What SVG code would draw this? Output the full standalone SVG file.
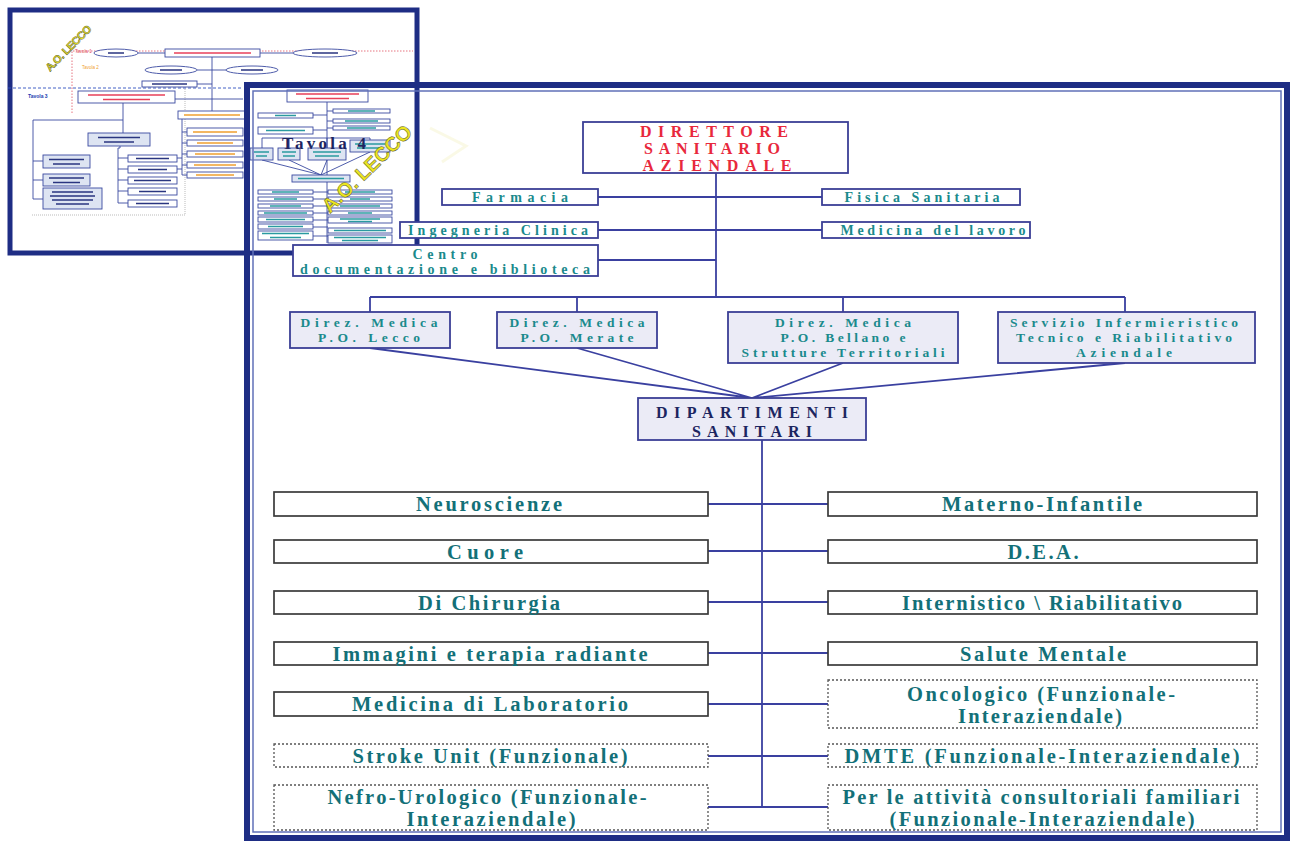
<svg xmlns="http://www.w3.org/2000/svg" width="1290" height="841" viewBox="0 0 1290 841">
<style>
.bg{fill:#fff}
.fr{fill:none;stroke:#1e2d84;stroke-width:6}
.fri{fill:none;stroke:#6070b8;stroke-width:1.5}
.tb{fill:#fff;stroke:#3b3f96;stroke-width:1.8}
.tf{fill:#ebebf6;stroke:#3b3f96;stroke-width:1.8}
.db{fill:#fff;stroke:#3a3a3a;stroke-width:1.7}
.dd{fill:#fff;stroke:#555;stroke-width:1.3;stroke-dasharray:2 2}
.ln{fill:none;stroke:#3a40a0;stroke-width:1.8}
.tt{font-family:"Liberation Serif",serif;font-weight:bold;fill:#1a8a8c;text-anchor:middle}
.dt{font-family:"Liberation Serif",serif;font-weight:bold;fill:#137078;text-anchor:middle;font-size:20.5px}
.rd{font-family:"Liberation Serif",serif;font-weight:bold;fill:#e8283c;text-anchor:middle;font-size:16px}
.nv{font-family:"Liberation Serif",serif;font-weight:bold;fill:#1c2560;text-anchor:middle;font-size:16px}
.m{fill:#fff;stroke:#3a4aa0;stroke-width:.9}
.mf{fill:#dde4f2;stroke:#3a4aa0;stroke-width:.9}
.ml{fill:none;stroke:#3a4aa0;stroke-width:.9}
.bt{stroke:#2a9aa0;stroke-width:1.3}
.br{stroke:#e8405a;stroke-width:1.5}
.bo{stroke:#f0a030;stroke-width:1.3}
.bn{stroke:#2a3580;stroke-width:1.3}
.wm{font-family:"Liberation Sans",sans-serif;font-weight:bold;fill:#ece51e;stroke:#5a5a30;stroke-width:.5}
</style>
<rect class="bg" x="0" y="0" width="1290" height="841"/>

<g id="thumbnail">
  <rect x="10" y="10" width="407" height="243" fill="#fff" stroke="#1e2d84" stroke-width="5"/>
  <path d="M72,113 V51 H413" fill="none" stroke="#e05060" stroke-width=".8" stroke-dasharray="1.5 1.5"/>
  <path d="M8,88 H243" fill="none" stroke="#3050c0" stroke-width=".9" stroke-dasharray="3 2"/>
  <path d="M32,215 H185 V88" fill="none" stroke="#aaa" stroke-width=".8" stroke-dasharray="1 1"/>
  <text x="75" y="53" font-family="Liberation Sans,sans-serif" font-size="4.5" fill="#e05060">Tavola 1</text>
  <text x="82" y="69" font-family="Liberation Sans,sans-serif" font-size="4.5" fill="#f0a030">Tavola 2</text>
  <text x="28" y="98" font-family="Liberation Sans,sans-serif" font-weight="bold" font-size="5" fill="#2040b0">Tavola 3</text>
  <path class="ml" d="M138,53 H165 M260,53 H293 M197,70 H227 M212,57 V113 M197,84 H212 M175,99 H243"/>
  <ellipse class="m" cx="116" cy="53" rx="22" ry="4"/>
  <ellipse class="m" cx="325" cy="53" rx="32" ry="4"/>
  <ellipse class="m" cx="171" cy="70" rx="26" ry="4"/>
  <ellipse class="m" cx="252" cy="70" rx="26" ry="4"/>
  <path class="bn" d="M108,53 H124 M312,53 H338 M160,70 H182 M241,70 H263"/>
  <rect class="m" x="165" y="49" width="95" height="8"/>
  <path class="br" d="M174,53 H251"/>
  <rect class="m" x="142" y="81" width="55" height="6"/>
  <path class="bn" d="M152,84 H187"/>
  <rect class="m" x="78" y="91" width="97" height="12"/>
  <path class="br" d="M88,95 H165 M103,99.5 H150"/>
  <rect class="m" x="178" y="111" width="67" height="8"/>
  <path class="bo" d="M184,115 H240"/>
  <path class="ml" d="M123,103 V133 M123,120 H33 V199 M33,161 H43 M33,180 H43 M33,199 H43"/>
  <path class="ml" d="M120,146 V148 H118 V203 M118,158 H128 M118,169 H128 M118,180 H128 M118,191 H128 M118,203 H128"/>
  <path class="ml" d="M182,119 V175 M182,132 H187 M182,143 H187 M182,154 H187 M182,165 H187 M182,175 H187 M177,158 H182 M177,169 H182"/>
  <rect class="mf" x="88" y="133" width="62" height="13"/>
  <path class="bn" d="M98,137.5 H140 M104,142 H134"/>
  <rect class="mf" x="43" y="155" width="47" height="13"/>
  <rect class="mf" x="43" y="174" width="47" height="12"/>
  <rect class="mf" x="43" y="188" width="59" height="21"/>
  <path class="bn" d="M49,159.5 H84 M53,164 H80 M49,178 H84 M53,182.5 H80 M52,192 H93 M50,196 H95 M52,200 H93 M56,204 H89"/>
  <rect class="m" x="128" y="155" width="49" height="7"/>
  <rect class="m" x="128" y="166" width="49" height="7"/>
  <rect class="m" x="128" y="177" width="49" height="7"/>
  <rect class="m" x="128" y="188" width="49" height="7"/>
  <rect class="m" x="128" y="200" width="49" height="7"/>
  <path class="bn" d="M136,158.5 H169 M138,169.5 H167 M134,180.5 H171 M139,191.5 H166 M136,203.5 H169"/>
  <rect class="m" x="187" y="128" width="56" height="8"/>
  <rect class="m" x="187" y="140" width="56" height="6"/>
  <rect class="m" x="187" y="151" width="56" height="6"/>
  <rect class="m" x="187" y="162" width="56" height="6"/>
  <rect class="m" x="187" y="172" width="56" height="6"/>
  <path class="bo" d="M193,132 H237 M197,143 H233 M195,154 H235 M194,165 H236 M196,175 H234"/>

  <rect class="m" x="287" y="90" width="81" height="12"/>
  <path class="br" d="M296,94 H359 M306,98.5 H349"/>
  <path class="ml" d="M327,102 V243 M313,115 H327 M313,130 H327 M327,111 H333 M327,121 H333 M327,128 H333"/>
  <path class="ml" d="M262,138 H370 M262,138 V148 M289,138 V148 M327,138 V148 M370,138 V140"/>
  <path class="ml" d="M262,160 L321,175 M289,160 L321,175 M327,160 L321,175 M370,152 L321,175"/>
  <path class="ml" d="M313,192 H328 M313,199 H328 M313,206 H328 M313,213 H328 M313,220 H328 M313,227 H328 M313,236 H328"/>
  <rect class="m" x="258" y="113" width="55" height="5"/>
  <rect class="m" x="258" y="127" width="55" height="7"/>
  <rect class="m" x="333" y="109" width="57" height="4"/>
  <rect class="m" x="333" y="119" width="57" height="4"/>
  <rect class="m" x="333" y="126" width="57" height="4"/>
  <path class="bt" d="M275,115.5 H296 M266,130.5 H305 M348,111 H375 M345,121 H378 M347,128 H376"/>
  <rect class="mf" x="250" y="148" width="23" height="12"/>
  <rect class="mf" x="278" y="148" width="22" height="12"/>
  <rect class="mf" x="308" y="148" width="38" height="12"/>
  <rect class="mf" x="350" y="140" width="40" height="12"/>
  <path class="bt" d="M254,152 H269 M256,156 H267 M282,152 H296 M283,156 H295 M313,152 H341 M315,156 H339 M355,144 H385 M357,148 H383"/>
  <rect class="mf" x="292" y="175" width="58" height="7"/>
  <path class="bt" d="M298,178.5 H344"/>
  <rect class="m" x="258" y="190" width="55" height="4"/>
  <rect class="m" x="258" y="197" width="55" height="4"/>
  <rect class="m" x="258" y="204" width="55" height="4"/>
  <rect class="m" x="258" y="211" width="55" height="4"/>
  <rect class="m" x="258" y="217" width="55" height="5"/>
  <rect class="m" x="258" y="224" width="55" height="5"/>
  <rect class="m" x="258" y="231" width="55" height="9"/>
  <path class="bt" d="M272,192 H299 M274,199 H297 M270,206 H301 M264,213 H307 M266,219.5 H305 M268,226.5 H303 M262,233.5 H309 M270,237.5 H301"/>
  <rect class="m" x="328" y="190" width="64" height="4"/>
  <rect class="m" x="328" y="197" width="64" height="4"/>
  <rect class="m" x="328" y="204" width="64" height="4"/>
  <rect class="m" x="328" y="211" width="64" height="4"/>
  <rect class="m" x="328" y="217" width="64" height="6"/>
  <rect class="m" x="328" y="228" width="64" height="5"/>
  <rect class="m" x="328" y="235" width="64" height="8"/>
  <path class="bt" d="M345,192 H375 M350,199 H370 M340,206 H380 M348,213 H372 M340,219 H380 M348,221.5 H372 M334,230.5 H386 M334,237.5 H386 M342,240.5 H378"/>
  <text x="324" y="149" font-family="Liberation Serif,serif" font-weight="bold" font-size="17" fill="#1c2560" text-anchor="middle" textLength="84" lengthAdjust="spacing">Tavola 4</text>
  <text class="wm" transform="translate(50,72) rotate(-45)" font-size="11" textLength="60" lengthAdjust="spacing">A.O. LECCO</text>
  <text class="wm" transform="translate(330,214) rotate(-44)" font-size="20" textLength="116" lengthAdjust="spacing">A.O. LECCO</text>
  <polyline points="430,128 466,146 442,162" fill="none" stroke="#f4f2c8" stroke-width="3" opacity=".45"/>
</g>

<g id="main-frame">
  <rect class="fr" x="247" y="85" width="1040" height="753"/>
  <rect class="fri" x="253" y="91" width="1028" height="741"/>
</g>

<g id="connectors">
  <path class="ln" d="M716,173 V297"/>
  <path class="ln" d="M598,197 H822 M598,230 H822 M598,260 H716"/>
  <path class="ln" d="M370,297 H1125 M370,297 V312 M577,297 V312 M843,297 V312 M1125,297 V312"/>
  <path class="ln" d="M370,348 L752,398 M577,348 L752,398 M843,363 L752,398 M1125,363 L752,398"/>
  <path class="ln" d="M762,440 V808" stroke-width="1.5"/>
  <path class="ln" d="M708,504 H828 M708,551 H828 M708,602 H828 M708,653 H828 M708,704 H828 M708,756 H828 M708,807 H828"/>
</g>

<g id="direttore-sanitario">
  <rect class="tb" x="583" y="122" width="265" height="51"/>
  <text class="rd" x="714" y="137" textLength="148" lengthAdjust="spacing">DIRETTORE</text>
  <text class="rd" x="712" y="154" textLength="136" lengthAdjust="spacing">SANITARIO</text>
  <text class="rd" x="717" y="171" textLength="149" lengthAdjust="spacing">AZIENDALE</text>
</g>
<g id="farmacia">
  <rect class="tb" x="442" y="189" width="156" height="16"/>
  <text class="tt" x="520" y="202" font-size="14" textLength="96" lengthAdjust="spacing">Farmacia</text>
</g>
<g id="fisica-sanitaria">
  <rect class="tb" x="822" y="189" width="198" height="16"/>
  <text class="tt" x="922" y="202" font-size="14" textLength="155" lengthAdjust="spacing">Fisica Sanitaria</text>
</g>
<g id="ingegneria-clinica">
  <rect class="tb" x="400" y="222" width="198" height="16"/>
  <text class="tt" x="498" y="235" font-size="14" textLength="180" lengthAdjust="spacing">Ingegneria Clinica</text>
</g>
<g id="medicina-lavoro">
  <rect class="tb" x="822" y="222" width="208" height="16"/>
  <text class="tt" x="933" y="235" font-size="14" textLength="185" lengthAdjust="spacing">Medicina del lavoro</text>
</g>
<g id="centro-documentazione">
  <rect class="tb" x="293" y="245" width="305" height="31"/>
  <text class="tt" x="445" y="259" font-size="14" textLength="65" lengthAdjust="spacing">Centro</text>
  <text class="tt" x="445" y="274" font-size="14" textLength="290" lengthAdjust="spacing">documentazione e biblioteca</text>
</g>

<g id="direz-lecco">
  <rect class="tf" x="290" y="312" width="160" height="36"/>
  <text class="tt" x="369" y="327" font-size="13.5" textLength="137" lengthAdjust="spacing">Direz. Medica</text>
  <text class="tt" x="369" y="342" font-size="13.5" textLength="102" lengthAdjust="spacing">P.O. Lecco</text>
</g>
<g id="direz-merate">
  <rect class="tf" x="497" y="312" width="160" height="36"/>
  <text class="tt" x="577" y="327" font-size="13.5" textLength="135" lengthAdjust="spacing">Direz. Medica</text>
  <text class="tt" x="577" y="342" font-size="13.5" textLength="113" lengthAdjust="spacing">P.O. Merate</text>
</g>
<g id="direz-bellano">
  <rect class="tf" x="728" y="312" width="230" height="51"/>
  <text class="tt" x="843" y="327" font-size="13.5" textLength="136" lengthAdjust="spacing">Direz. Medica</text>
  <text class="tt" x="843" y="342" font-size="13.5" textLength="125" lengthAdjust="spacing">P.O. Bellano e</text>
  <text class="tt" x="843" y="357" font-size="13.5" textLength="203" lengthAdjust="spacing">Strutture Territoriali</text>
</g>
<g id="servizio-infermieristico">
  <rect class="tf" x="998" y="312" width="257" height="51"/>
  <text class="tt" x="1124" y="327" font-size="13.5" textLength="228" lengthAdjust="spacing">Servizio Infermieristico</text>
  <text class="tt" x="1124" y="342" font-size="13.5" textLength="216" lengthAdjust="spacing">Tecnico e Riabilitativo</text>
  <text class="tt" x="1124" y="357" font-size="13.5" textLength="96" lengthAdjust="spacing">Aziendale</text>
</g>
<g id="dipartimenti-sanitari">
  <rect class="tf" x="638" y="398" width="228" height="42"/>
  <text class="nv" x="752" y="418" textLength="192" lengthAdjust="spacing">DIPARTIMENTI</text>
  <text class="nv" x="752" y="437" textLength="120" lengthAdjust="spacing">SANITARI</text>
</g>

<g id="neuroscienze">
  <rect class="db" x="274" y="492" width="434" height="24"/>
  <text class="dt" x="489" y="511" textLength="146" lengthAdjust="spacing">Neuroscienze</text>
</g>
<g id="materno-infantile">
  <rect class="db" x="828" y="492" width="429" height="24"/>
  <text class="dt" x="1042" y="511" textLength="200" lengthAdjust="spacing">Materno-Infantile</text>
</g>
<g id="cuore">
  <rect class="db" x="274" y="540" width="434" height="23"/>
  <text class="dt" x="485" y="559" textLength="76" lengthAdjust="spacing">Cuore</text>
</g>
<g id="dea">
  <rect class="db" x="828" y="540" width="429" height="23"/>
  <text class="dt" x="1043" y="559" textLength="71" lengthAdjust="spacing">D.E.A.</text>
</g>
<g id="chirurgia">
  <rect class="db" x="274" y="591" width="434" height="23"/>
  <text class="dt" x="489" y="610" textLength="142" lengthAdjust="spacing">Di Chirurgia</text>
</g>
<g id="internistico">
  <rect class="db" x="828" y="591" width="429" height="23"/>
  <text class="dt" x="1042" y="610" textLength="280" lengthAdjust="spacing">Internistico \ Riabilitativo</text>
</g>
<g id="immagini">
  <rect class="db" x="274" y="642" width="434" height="23"/>
  <text class="dt" x="490" y="661" textLength="315" lengthAdjust="spacing">Immagini e terapia radiante</text>
</g>
<g id="salute-mentale">
  <rect class="db" x="828" y="642" width="429" height="23"/>
  <text class="dt" x="1043" y="661" textLength="166" lengthAdjust="spacing">Salute Mentale</text>
</g>
<g id="laboratorio">
  <rect class="db" x="274" y="692" width="434" height="24"/>
  <text class="dt" x="490" y="711" textLength="276" lengthAdjust="spacing">Medicina di Laboratorio</text>
</g>
<g id="oncologico">
  <rect class="dd" x="828" y="680" width="429" height="48"/>
  <text class="dt" x="1041" y="701" textLength="268" lengthAdjust="spacing">Oncologico (Funzionale-</text>
  <text class="dt" x="1040" y="723" textLength="164" lengthAdjust="spacing">Interaziendale)</text>
</g>
<g id="stroke-unit">
  <rect class="dd" x="274" y="744" width="434" height="23"/>
  <text class="dt" x="490" y="763" textLength="275" lengthAdjust="spacing">Stroke Unit (Funzionale)</text>
</g>
<g id="dmte">
  <rect class="dd" x="828" y="744" width="429" height="23"/>
  <text class="dt" x="1042" y="763" textLength="395" lengthAdjust="spacing">DMTE (Funzionale-Interaziendale)</text>
</g>
<g id="nefro-urologico">
  <rect class="dd" x="274" y="785" width="434" height="45"/>
  <text class="dt" x="487" y="804" textLength="319" lengthAdjust="spacing">Nefro-Urologico (Funzionale-</text>
  <text class="dt" x="491" y="826" textLength="169" lengthAdjust="spacing">Interaziendale)</text>
</g>
<g id="consultoriali">
  <rect class="dd" x="828" y="785" width="429" height="45"/>
  <text class="dt" x="1041" y="804" textLength="397" lengthAdjust="spacing">Per le attività consultoriali familiari</text>
  <text class="dt" x="1042" y="826" textLength="305" lengthAdjust="spacing">(Funzionale-Interaziendale)</text>
</g>
</svg>
